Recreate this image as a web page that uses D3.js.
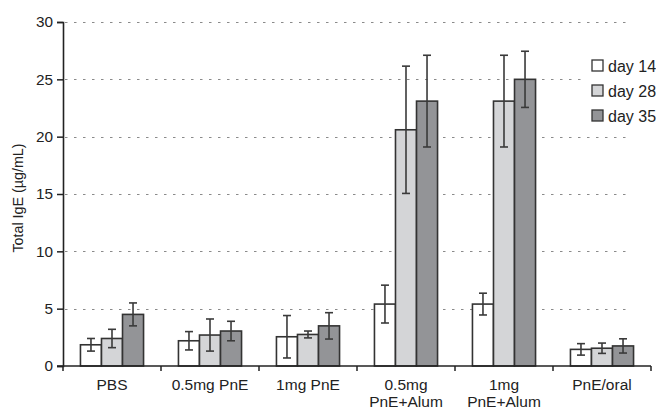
<!DOCTYPE html>
<html>
<head>
<meta charset="utf-8">
<script src="https://cdn.jsdelivr.net/npm/d3@7"></script>
<style>
  html, body { margin: 0; padding: 0; background: #fff; }
  svg { display: block; font-family: "Liberation Sans", Arial, sans-serif; }
</style>
</head>
<body>
<svg id="chart" width="656" height="410"></svg>
<script>
// Treatment groups (two-line labels split on "\n")
const groups = ["PBS", "0.5mg PnE", "1mg PnE", "0.5mg\nPnE+Alum", "1mg\nPnE+Alum", "PnE/oral"];
const series = ["day 14", "day 28", "day 35"];
const seriesFill = ["#ffffff", "#d4d5d7", "#939497"];

// Mean total IgE (µg/mL) per group, one array per day
const day14 = [1.85, 2.2, 2.55, 5.4, 5.4, 1.45];
const day28 = [2.4, 2.7, 2.75, 20.6, 23.1, 1.55];
const day35 = [4.5, 3.05, 3.5, 23.1, 25.0, 1.75];

// Error (± half-width) per group, one array per day
const err14 = [0.55, 0.8, 1.85, 1.65, 0.95, 0.5];
const err28 = [0.8, 1.4, 0.3, 5.55, 4.0, 0.45];
const err35 = [1.0, 0.85, 1.15, 4.0, 2.45, 0.62];

const yTicks = [0, 5, 10, 15, 20, 25, 30];

const values = [day14, day28, day35];
const errors = [err14, err28, err35];

const svg = d3.select("#chart");
const plotLeft = 63, plotRight = 651, plotTop = 22, plotBottom = 366;

const x0 = d3.scaleBand().domain(groups).range([plotLeft, plotRight]).paddingInner(0).paddingOuter(0);
const x1 = d3.scaleBand().domain(series).range([0, x0.bandwidth()]).paddingInner(0).paddingOuter(0.83);
const y = d3.scaleLinear().domain([0, 30]).range([plotBottom, plotTop]);

// dotted horizontal gridlines
svg.append("g")
  .selectAll("line")
  .data(yTicks.filter(d => d > 0))
  .join("line")
  .attr("x1", plotLeft + 2)
  .attr("x2", 626)
  .attr("y1", d => Math.round(y(d)) + 0.5)
  .attr("y2", d => Math.round(y(d)) + 0.5)
  .attr("stroke", "#8a8a8a")
  .attr("stroke-width", 1.2)
  .attr("stroke-dasharray", "2.5,6.5");

// bars and error bars
const gGroups = svg.append("g")
  .selectAll("g")
  .data(groups)
  .join("g")
  .attr("transform", d => `translate(${x0(d)},0)`);

gGroups.each(function(g, gi) {
  const sel = d3.select(this);
  series.forEach((s, si) => {
    const v = values[si][gi];
    const e = errors[si][gi];
    const bx = x1(s);
    const bw = x1.bandwidth();
    sel.append("rect")
      .attr("x", bx)
      .attr("y", y(v))
      .attr("width", bw)
      .attr("height", y(0) - y(v))
      .attr("fill", seriesFill[si])
      .attr("stroke", "#333")
      .attr("stroke-width", 1.6);
    const cx = bx + bw / 2;
    const eg = sel.append("g").attr("stroke", "#3a3a3a").attr("stroke-width", 1.6);
    eg.append("line").attr("x1", cx).attr("x2", cx).attr("y1", y(v + e)).attr("y2", y(v - e));
    eg.append("line").attr("x1", cx - 4).attr("x2", cx + 4).attr("y1", y(v + e)).attr("y2", y(v + e));
    eg.append("line").attr("x1", cx - 4).attr("x2", cx + 4).attr("y1", y(v - e)).attr("y2", y(v - e));
  });
});

// y axis
const yAxis = svg.append("g")
  .attr("transform", `translate(${plotLeft},0)`)
  .call(d3.axisLeft(y).tickValues(yTicks).tickSize(6).tickPadding(4));
yAxis.select(".domain").attr("stroke", "#222").attr("stroke-width", 1.6);
yAxis.selectAll(".tick line").attr("stroke", "#222").attr("stroke-width", 1.5);
yAxis.selectAll(".tick text")
  .attr("font-size", 15.3)
  .attr("font-family", "Liberation Sans, Arial, sans-serif")
  .attr("fill", "#222");

// x axis: ticks sit on group boundaries
const xAxisG = svg.append("g").attr("transform", `translate(0,${plotBottom})`);
xAxisG.append("line")
  .attr("x1", plotLeft - 6).attr("x2", plotRight)
  .attr("y1", 0).attr("y2", 0)
  .attr("stroke", "#222").attr("stroke-width", 1.6);
xAxisG.selectAll("line.tk")
  .data(groups.map(g => x0(g)).concat([plotRight]))
  .join("line")
  .attr("class", "tk")
  .attr("x1", d => d).attr("x2", d => d)
  .attr("y1", 0).attr("y2", 5)
  .attr("stroke", "#222").attr("stroke-width", 1.5);

const labels = xAxisG.selectAll("text")
  .data(groups)
  .join("text")
  .attr("x", d => x0(d) + x0.bandwidth() / 2)
  .attr("y", 24)
  .attr("text-anchor", "middle")
  .attr("font-size", 15.5)
  .attr("fill", "#222");
labels.each(function(d) {
  const lines = d.split("\n");
  const t = d3.select(this);
  lines.forEach((ln, i) => {
    t.append("tspan")
      .attr("x", x0(d) + x0.bandwidth() / 2)
      .attr("dy", i === 0 ? 0 : 17)
      .text(ln);
  });
});

// y axis title
svg.append("text")
  .attr("transform", `translate(23,198) rotate(-90)`)
  .attr("text-anchor", "middle")
  .attr("font-size", 14.3)
  .attr("fill", "#222")
  .text("Total IgE (µg/mL)");

// legend
const legend = svg.append("g").attr("transform", "translate(583,54)");
legend.append("rect")
  .attr("x", 0).attr("y", 0).attr("width", 73).attr("height", 76)
  .attr("fill", "#fff");
const li = legend.selectAll("g")
  .data(series)
  .join("g")
  .attr("transform", (d, i) => `translate(9,${6 + i * 25})`);
li.append("rect")
  .attr("width", 11).attr("height", 11)
  .attr("fill", (d, i) => seriesFill[i])
  .attr("stroke", "#333").attr("stroke-width", 1.3);
li.append("text")
  .attr("x", 16).attr("y", 11.5)
  .attr("font-size", 16)
  .attr("fill", "#222")
  .text(d => d);
</script>
</body>
</html>
